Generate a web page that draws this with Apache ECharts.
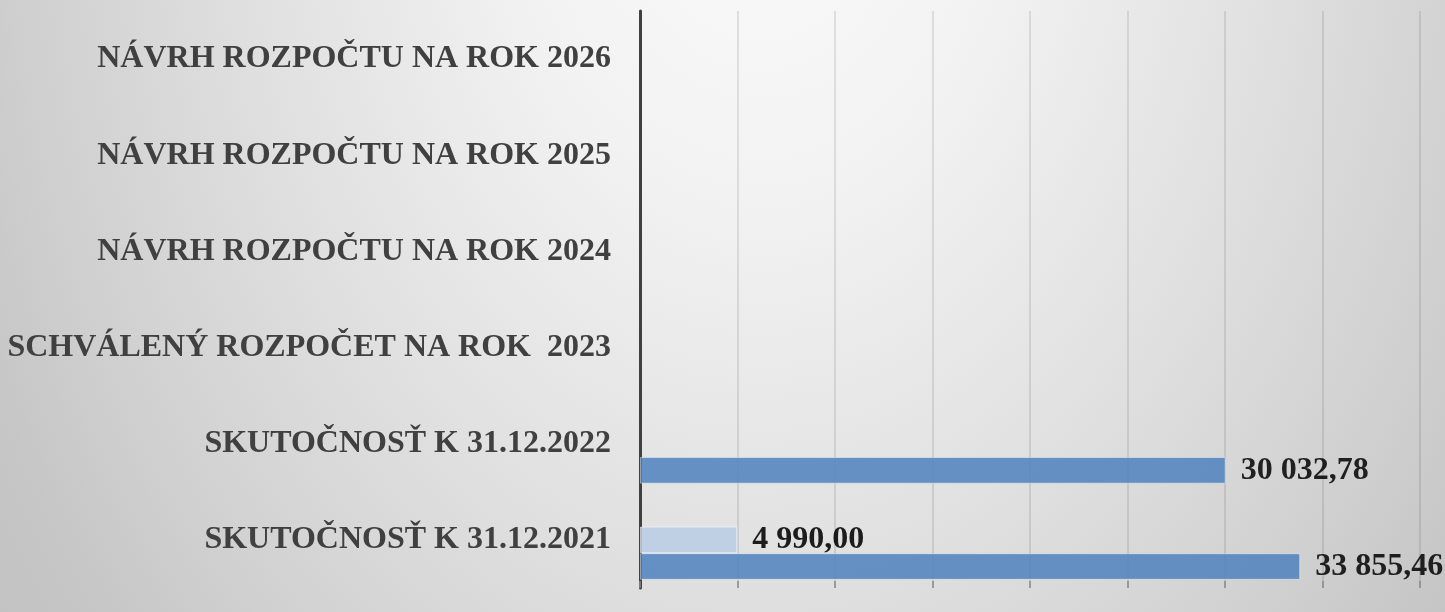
<!DOCTYPE html>
<html>
<head>
<meta charset="utf-8">
<script src="https://cdn.jsdelivr.net/npm/echarts@6/dist/echarts.min.js"></script>
<style>
  html, body { margin: 0; padding: 0; }
  #chart {
    width: 1445px;
    height: 612px;
    background: radial-gradient(1000px 1400px at 760px -150px, #fbfbfb 0%, #f2f2f2 25%, #e0e0e0 52%, #cfcfcf 75%, #c6c6c6 86%, #c0c0c0 100%);
  }
</style>
</head>
<body>
<div id="chart"></div>
<script>
// categories from bottom to top
var categories = [
  'SKUTOČNOSŤ K 31.12.2021',
  'SKUTOČNOSŤ K 31.12.2022',
  'SCHVÁLENÝ ROZPOČET NA ROK  2023',
  'NÁVRH ROZPOČTU NA ROK 2024',
  'NÁVRH ROZPOČTU NA ROK 2025',
  'NÁVRH ROZPOČTU NA ROK 2026'
];
var darkValues = [33855.46, 30032.78, '-', '-', '-', '-'];
var lightValues = [4990.00, '-', '-', '-', '-', '-'];
var emptyValues = ['-', '-', '-', '-', '-', '-'];
var axisMax = 40000;
var axisStep = 5000;

var fmt = function (v) {
  var s = Number(v).toFixed(2).split('.');
  return s[0].replace(/\B(?=(\d{3})+(?!\d))/g, ' ') + ',' + s[1];
};

var labelStyle = {
  show: true,
  position: 'right',
  distance: 15,
  color: '#000',
  fontFamily: 'Liberation Serif',
  fontWeight: 'bold',
  fontSize: 32,
  formatter: function (p) { return fmt(p.value); }
};

var myChart = echarts.init(document.getElementById('chart'));
myChart.setOption({
  backgroundColor: 'transparent',
  animation: false,
  grid: { left: 640, right: 25, top: 11, bottom: 24, containLabel: false },
  xAxis: {
    type: 'value',
    min: 0,
    max: axisMax,
    interval: axisStep,
    axisLabel: { show: false },
    axisLine: { show: false },
    axisTick: { show: true, inside: true, length: 7, lineStyle: { color: '#8a8a8a', width: 1.5 } },
    splitLine: { show: true, lineStyle: { color: 'rgba(0,0,0,0.13)', width: 1.5 } }
  },
  yAxis: {
    type: 'category',
    data: categories,
    axisLine: { show: true, lineStyle: { color: '#404040', width: 3 } },
    axisTick: { show: false },
    axisLabel: {
      margin: 29,
      color: '#404040',
      fontFamily: 'Liberation Serif',
      fontWeight: 'bold',
      fontSize: 32
    }
  },
  series: [
    {
      name: 'empty',
      type: 'bar',
      data: emptyValues,
      barGap: '0%',
      barCategoryGap: '17%'
    },
    {
      name: 'light',
      type: 'bar',
      data: lightValues,
      barGap: '0%',
      barCategoryGap: '17%',
      itemStyle: { color: '#b9cde5', opacity: 0.88, borderColor: 'rgba(255,255,255,0.6)', borderWidth: 1 },
      label: labelStyle
    },
    {
      name: 'dark',
      type: 'bar',
      data: darkValues,
      barGap: '0%',
      barCategoryGap: '17%',
      itemStyle: { color: '#4f81bd', opacity: 0.85, borderColor: 'rgba(255,255,255,0.5)', borderWidth: 1 },
      label: labelStyle
    }
  ]
});
</script>
</body>
</html>
